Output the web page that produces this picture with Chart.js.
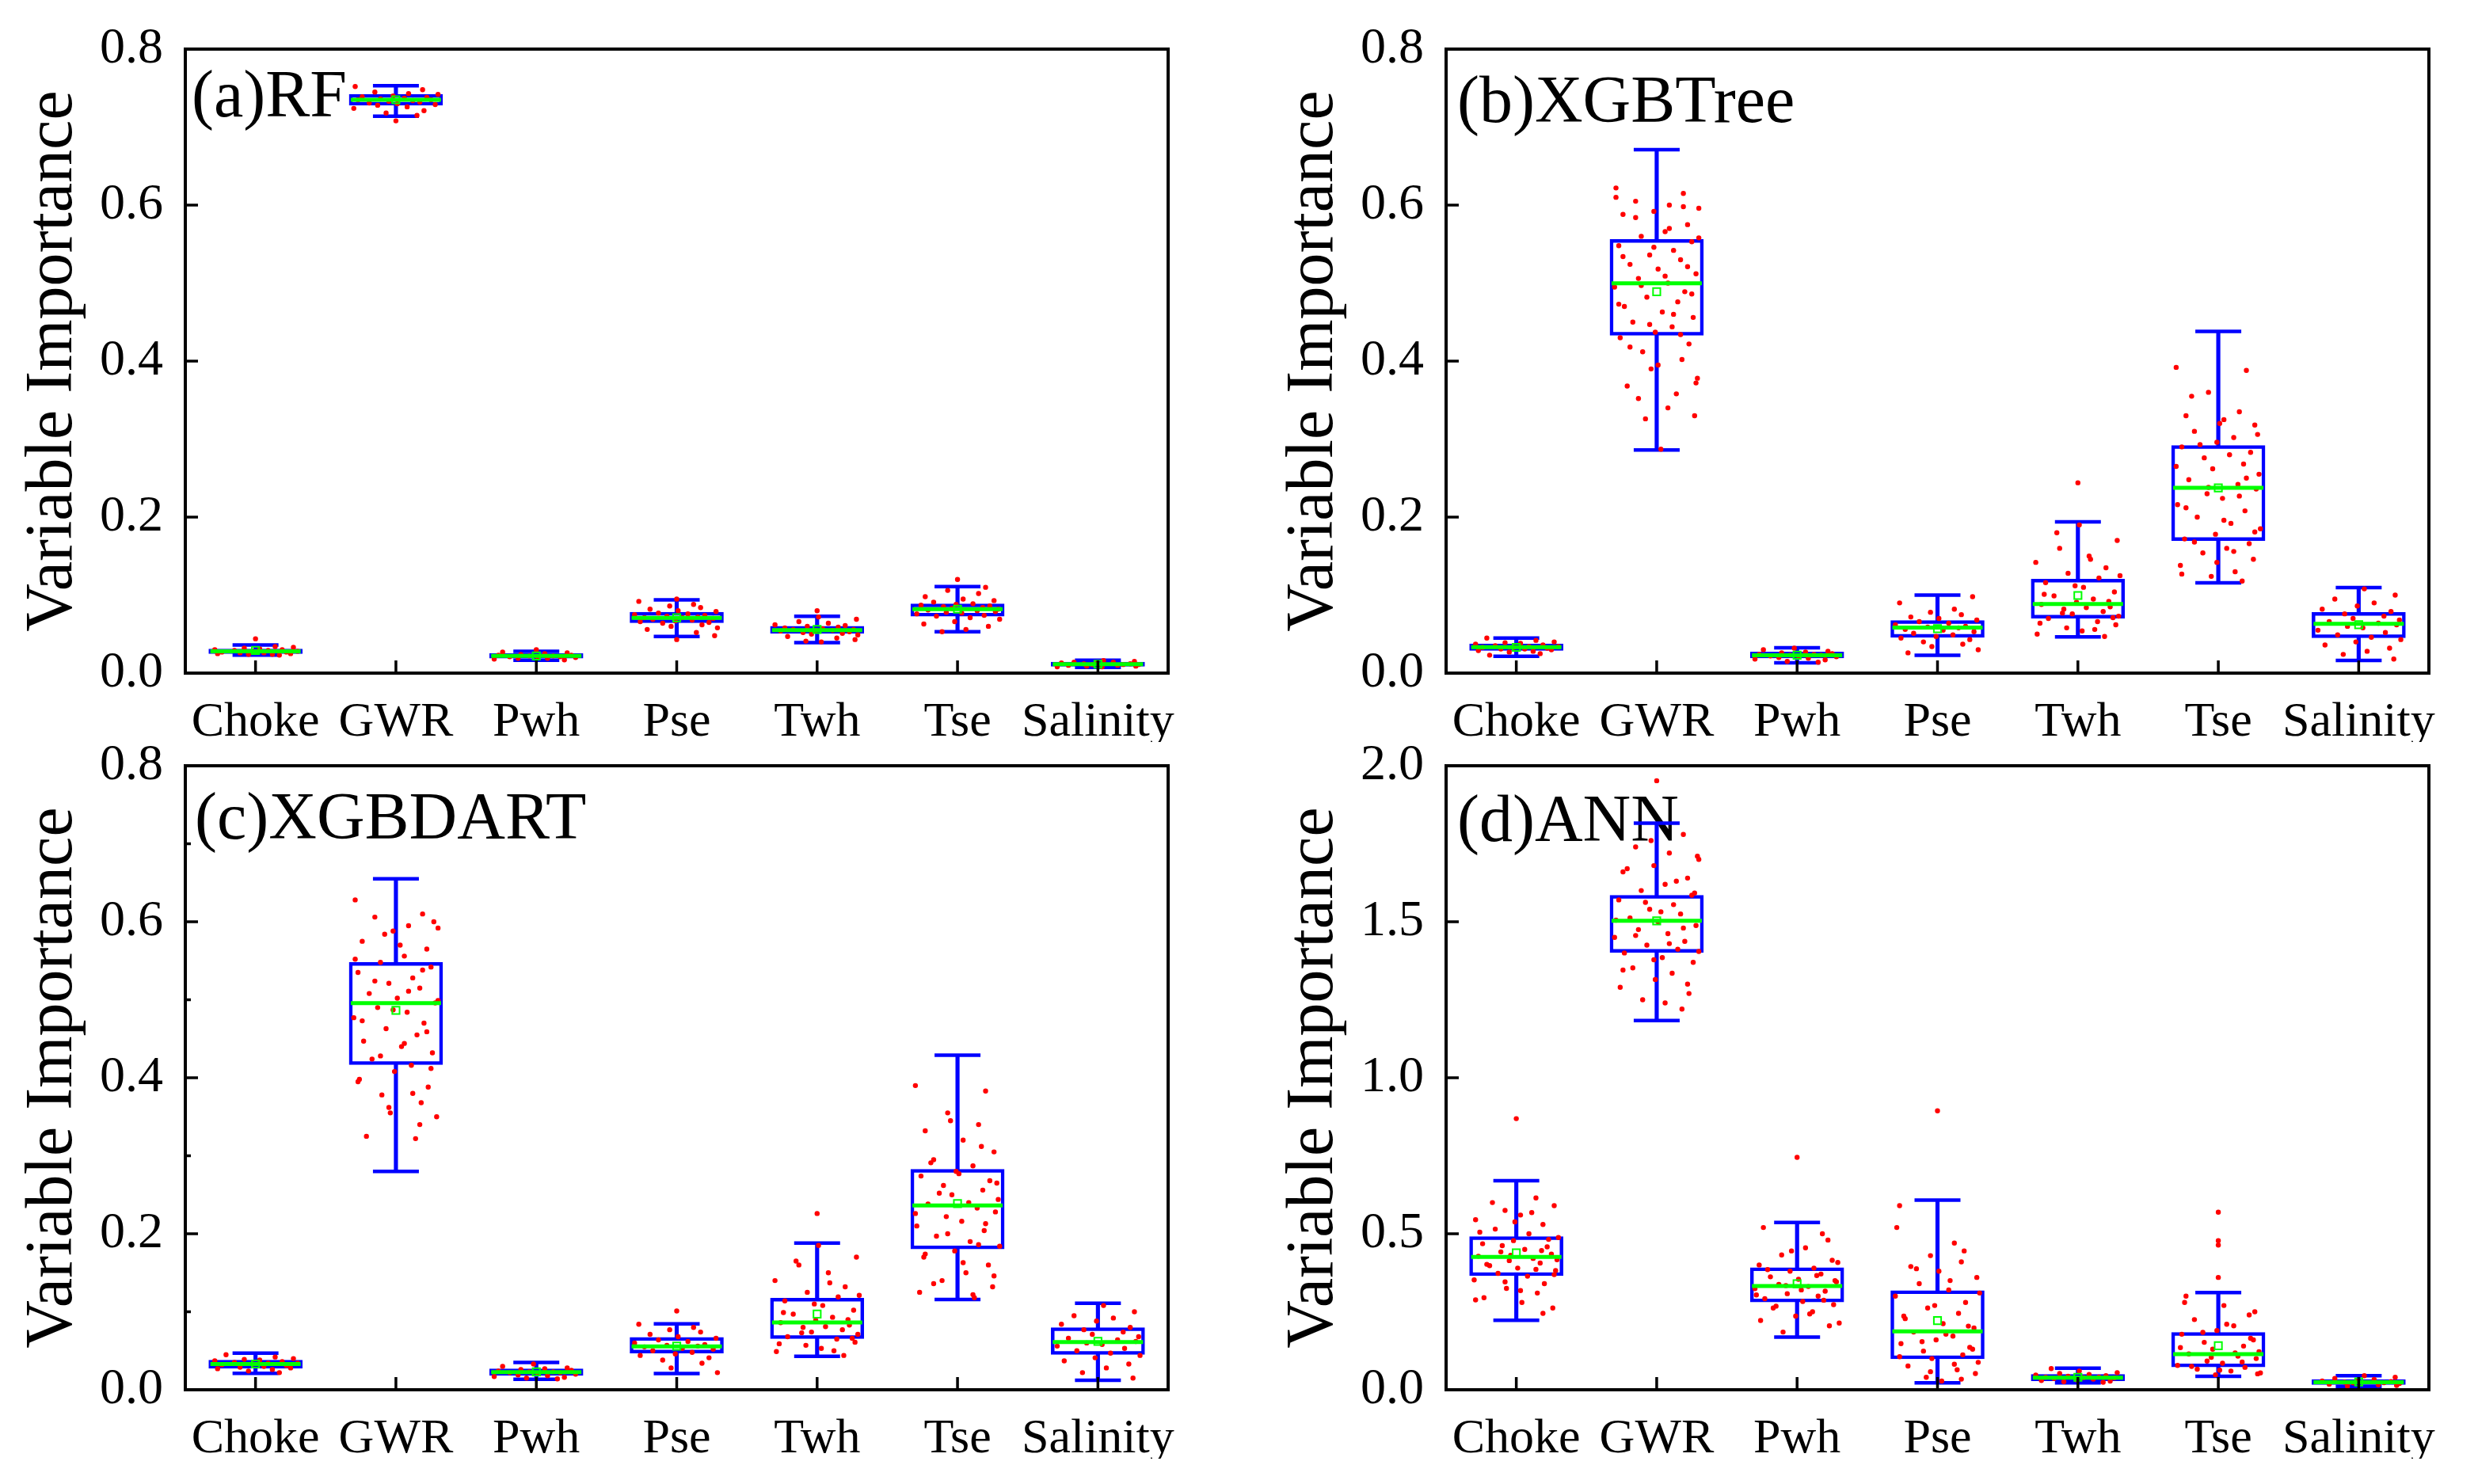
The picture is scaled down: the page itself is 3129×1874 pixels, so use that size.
<!DOCTYPE html>
<html>
<head>
<meta charset="utf-8">
<script src="https://cdn.jsdelivr.net/npm/chart.js@4.4.1/dist/chart.umd.min.js"></script>
<style>
  html, body { margin: 0; padding: 0; background: #fff; }
  body { width: 3129px; height: 1874px; position: relative; overflow: hidden; font-family: 'Liberation Serif', 'Times New Roman', serif; }
  canvas { position: absolute; }
</style>
</head>
<body>
<canvas id="pa" width="1537" height="937" style="left:0px;top:0px"></canvas>
<canvas id="pb" width="1537" height="937" style="left:1592px;top:0px"></canvas>
<canvas id="pc" width="1537" height="937" style="left:0px;top:905px"></canvas>
<canvas id="pd" width="1537" height="937" style="left:1592px;top:905px"></canvas>
<script>
const categories = ['Choke', 'GWR', 'Pwh', 'Pse', 'Twh', 'Tse', 'Salinity'];

// (a) RF
const rfMin  = [0.023, 0.714, 0.0165, 0.047, 0.039, 0.053, 0.0074];
const rfQ1   = [0.025, 0.728, 0.019, 0.0645, 0.051, 0.073, 0.0087];
const rfMed  = [0.028, 0.735, 0.022, 0.0708, 0.055, 0.082, 0.0114];
const rfQ3   = [0.031, 0.742, 0.025, 0.078, 0.060, 0.0887, 0.0141];
const rfMax  = [0.036, 0.753, 0.028, 0.094, 0.0728, 0.111, 0.0164];
const rfMean = [0.029, 0.735, 0.022, 0.071, 0.056, 0.082, 0.0114];
const rfPts = [
  [0.044, 0.034, 0.033, 0.032, 0.031, 0.030, 0.030, 0.029, 0.029, 0.028, 0.028, 0.027, 0.027, 0.026, 0.026, 0.025, 0.025, 0.024, 0.024, 0.023],
  [0.752, 0.748, 0.745, 0.743, 0.742, 0.740, 0.739, 0.738, 0.737, 0.736, 0.735, 0.735, 0.734, 0.733, 0.732, 0.731, 0.730, 0.729, 0.728, 0.726, 0.724, 0.721, 0.718, 0.715, 0.708],
  [0.030, 0.027, 0.026, 0.025, 0.024, 0.023, 0.023, 0.022, 0.022, 0.021, 0.021, 0.020, 0.020, 0.019, 0.019, 0.018, 0.017],
  [0.095, 0.092, 0.088, 0.086, 0.084, 0.082, 0.080, 0.079, 0.077, 0.076, 0.075, 0.074, 0.073, 0.072, 0.071, 0.071, 0.070, 0.069, 0.068, 0.067, 0.066, 0.065, 0.064, 0.062, 0.060, 0.058, 0.056, 0.052, 0.048, 0.043],
  [0.080, 0.072, 0.069, 0.066, 0.064, 0.062, 0.061, 0.060, 0.059, 0.058, 0.057, 0.056, 0.056, 0.055, 0.055, 0.054, 0.053, 0.052, 0.051, 0.050, 0.049, 0.047, 0.045, 0.043, 0.041, 0.040],
  [0.120, 0.110, 0.106, 0.102, 0.098, 0.095, 0.093, 0.091, 0.089, 0.088, 0.087, 0.086, 0.085, 0.084, 0.083, 0.082, 0.081, 0.080, 0.079, 0.078, 0.077, 0.076, 0.074, 0.073, 0.071, 0.069, 0.066, 0.063, 0.060, 0.056, 0.053],
  [0.016, 0.015, 0.014, 0.014, 0.013, 0.013, 0.012, 0.012, 0.011, 0.011, 0.011, 0.010, 0.010, 0.009, 0.009, 0.008, 0.008]
];

// (b) XGBTree
const xtMin  = [0.0217, 0.286, 0.0133, 0.0229, 0.0464, 0.1157, 0.0163];
const xtQ1   = [0.029, 0.433, 0.0193, 0.0458, 0.0705, 0.170, 0.0452];
const xtMed  = [0.0332, 0.4997, 0.0229, 0.0585, 0.0886, 0.2375, 0.0633];
const xtQ3   = [0.0374, 0.556, 0.027, 0.0675, 0.1206, 0.2917, 0.0778];
const xtMax  = [0.045, 0.671, 0.0325, 0.100, 0.194, 0.438, 0.1097];
const xtMean = [0.033, 0.489, 0.023, 0.057, 0.0995, 0.2375, 0.062];
const xtPts = [
  [0.045, 0.042, 0.040, 0.039, 0.038, 0.037, 0.036, 0.035, 0.034, 0.034, 0.033, 0.033, 0.032, 0.031, 0.031, 0.030, 0.029, 0.028, 0.027, 0.025, 0.023],
  [0.622, 0.615, 0.605, 0.600, 0.596, 0.592, 0.588, 0.575, 0.566, 0.560, 0.553, 0.548, 0.542, 0.536, 0.530, 0.524, 0.518, 0.512, 0.506, 0.500, 0.495, 0.489, 0.482, 0.476, 0.470, 0.463, 0.456, 0.450, 0.444, 0.437, 0.430, 0.422, 0.412, 0.402, 0.390, 0.378, 0.368, 0.358, 0.330, 0.326, 0.287,
   0.610, 0.598, 0.584, 0.570, 0.558, 0.546, 0.534, 0.521, 0.509, 0.497, 0.486, 0.473, 0.460, 0.447, 0.434, 0.418, 0.395, 0.372, 0.352, 0.340],
  [0.032, 0.030, 0.028, 0.027, 0.026, 0.025, 0.024, 0.024, 0.023, 0.023, 0.022, 0.022, 0.021, 0.020, 0.019, 0.018, 0.017, 0.015, 0.014],
  [0.098, 0.090, 0.082, 0.078, 0.075, 0.072, 0.070, 0.068, 0.066, 0.064, 0.062, 0.060, 0.059, 0.058, 0.056, 0.055, 0.053, 0.051, 0.049, 0.047, 0.045, 0.043, 0.040, 0.037, 0.034, 0.030, 0.026],
  [0.244, 0.190, 0.170, 0.160, 0.150, 0.142, 0.135, 0.128, 0.122, 0.116, 0.110, 0.104, 0.099, 0.095, 0.091, 0.088, 0.085, 0.082, 0.079, 0.076, 0.073, 0.070, 0.066, 0.062, 0.058, 0.054, 0.050, 0.047,
   0.180, 0.146, 0.125, 0.112, 0.101, 0.092, 0.084, 0.077, 0.071, 0.064, 0.056],
  [0.392, 0.388, 0.360, 0.335, 0.330, 0.325, 0.318, 0.310, 0.302, 0.296, 0.290, 0.283, 0.276, 0.268, 0.262, 0.255, 0.248, 0.242, 0.236, 0.230, 0.224, 0.216, 0.208, 0.200, 0.192, 0.185, 0.178, 0.172, 0.166, 0.160, 0.154, 0.146, 0.138, 0.130, 0.124, 0.118,
   0.355, 0.320, 0.306, 0.293, 0.280, 0.265, 0.250, 0.238, 0.227, 0.212, 0.196, 0.181, 0.168, 0.156, 0.142, 0.127],
  [0.108, 0.100, 0.095, 0.090, 0.086, 0.082, 0.079, 0.076, 0.073, 0.070, 0.068, 0.066, 0.064, 0.062, 0.060, 0.058, 0.055, 0.052, 0.049, 0.046, 0.043, 0.040, 0.036, 0.032, 0.028, 0.024, 0.018]
];

// (c) XGBDART
const xdMin  = [0.021, 0.280, 0.0135, 0.0208, 0.0428, 0.1157, 0.0122];
const xdQ1   = [0.0275, 0.4168, 0.0184, 0.047, 0.0655, 0.1805, 0.0453];
const xdMed  = [0.033, 0.4957, 0.0226, 0.0557, 0.0863, 0.2362, 0.0612];
const xdQ3   = [0.038, 0.548, 0.0269, 0.0673, 0.1175, 0.2827, 0.0796];
const xdMax  = [0.047, 0.655, 0.0349, 0.0845, 0.188, 0.429, 0.111];
const xdMean = [0.033, 0.4865, 0.023, 0.056, 0.097, 0.2387, 0.062];
const xdPts = [
  [0.045, 0.042, 0.040, 0.039, 0.038, 0.037, 0.036, 0.035, 0.034, 0.034, 0.033, 0.032, 0.031, 0.030, 0.029, 0.028, 0.027, 0.026, 0.024, 0.022],
  [0.628, 0.610, 0.606, 0.595, 0.592, 0.588, 0.575, 0.565, 0.556, 0.548, 0.542, 0.535, 0.528, 0.521, 0.515, 0.508, 0.502, 0.496, 0.490, 0.484, 0.477, 0.470, 0.463, 0.455, 0.447, 0.440, 0.432, 0.424, 0.416, 0.408, 0.398, 0.388, 0.378, 0.368, 0.355, 0.350, 0.325, 0.322,
   0.600, 0.584, 0.570, 0.552, 0.538, 0.524, 0.511, 0.499, 0.487, 0.473, 0.459, 0.444, 0.428, 0.412, 0.395, 0.380, 0.362, 0.340],
  [0.033, 0.030, 0.028, 0.027, 0.026, 0.025, 0.024, 0.023, 0.023, 0.022, 0.022, 0.021, 0.020, 0.019, 0.018, 0.017, 0.016, 0.015, 0.014],
  [0.101, 0.084, 0.080, 0.077, 0.074, 0.071, 0.068, 0.066, 0.064, 0.062, 0.060, 0.058, 0.057, 0.056, 0.055, 0.053, 0.052, 0.050, 0.048, 0.046, 0.044, 0.041, 0.038, 0.034, 0.028, 0.022],
  [0.226, 0.185, 0.170, 0.160, 0.150, 0.140, 0.132, 0.125, 0.119, 0.114, 0.108, 0.102, 0.097, 0.093, 0.089, 0.086, 0.083, 0.080, 0.077, 0.074, 0.071, 0.068, 0.065, 0.061, 0.057, 0.053, 0.049, 0.044,
   0.165, 0.137, 0.121, 0.110, 0.099, 0.090, 0.081, 0.073, 0.066, 0.059, 0.050],
  [0.390, 0.383, 0.355, 0.340, 0.332, 0.320, 0.305, 0.295, 0.287, 0.280, 0.274, 0.268, 0.262, 0.256, 0.250, 0.244, 0.238, 0.233, 0.228, 0.222, 0.216, 0.210, 0.204, 0.197, 0.190, 0.184, 0.178, 0.170, 0.160, 0.150, 0.140, 0.132, 0.125, 0.118,
   0.345, 0.312, 0.291, 0.277, 0.265, 0.252, 0.240, 0.226, 0.213, 0.200, 0.186, 0.174, 0.163, 0.146, 0.136, 0.122],
  [0.108, 0.100, 0.095, 0.092, 0.088, 0.084, 0.080, 0.077, 0.074, 0.071, 0.068, 0.066, 0.064, 0.062, 0.060, 0.058, 0.056, 0.053, 0.050, 0.047, 0.044, 0.041, 0.037, 0.033, 0.028, 0.022, 0.015]
];

// (d) ANN
const anMin  = [0.223, 1.1835, 0.169, 0.0225, 0.0225, 0.0434, 0.0105];
const anQ1   = [0.3655, 1.402, 0.2816, 0.099, 0.0285, 0.0734, 0.0165];
const anMed  = [0.4255, 1.503, 0.3326, 0.187, 0.039, 0.114, 0.024];
const anQ3   = [0.491, 1.585, 0.391, 0.3176, 0.049, 0.184, 0.033];
const anMax  = [0.670, 1.816, 0.536, 0.608, 0.069, 0.3116, 0.045];
const anMean = [0.439, 1.503, 0.340, 0.222, 0.040, 0.141, 0.025];
const anPts = [
  [0.869, 0.615, 0.590, 0.575, 0.560, 0.545, 0.530, 0.515, 0.500, 0.488, 0.478, 0.468, 0.458, 0.450, 0.442, 0.435, 0.428, 0.421, 0.414, 0.406, 0.398, 0.390, 0.382, 0.373, 0.364, 0.352, 0.340, 0.325, 0.310, 0.295, 0.280, 0.262,
   0.600, 0.568, 0.538, 0.505, 0.482, 0.462, 0.446, 0.431, 0.417, 0.402, 0.386, 0.369, 0.346, 0.318, 0.288, 0.245],
  [1.952, 1.780, 1.740, 1.720, 1.700, 1.680, 1.660, 1.640, 1.620, 1.600, 1.585, 1.570, 1.555, 1.540, 1.525, 1.512, 1.500, 1.488, 1.475, 1.462, 1.450, 1.437, 1.425, 1.412, 1.400, 1.385, 1.370, 1.352, 1.335, 1.315, 1.290, 1.270, 1.250, 1.220,
   1.760, 1.710, 1.670, 1.630, 1.592, 1.562, 1.532, 1.505, 1.480, 1.456, 1.430, 1.405, 1.378, 1.345, 1.300, 1.240],
  [0.745, 0.520, 0.480, 0.455, 0.432, 0.415, 0.400, 0.390, 0.380, 0.371, 0.362, 0.354, 0.346, 0.338, 0.331, 0.324, 0.316, 0.308, 0.300, 0.292, 0.283, 0.273, 0.262, 0.250, 0.236, 0.222, 0.205, 0.185,
   0.500, 0.445, 0.408, 0.385, 0.366, 0.350, 0.334, 0.320, 0.304, 0.287, 0.268, 0.243, 0.214],
  [0.894, 0.590, 0.470, 0.430, 0.410, 0.395, 0.380, 0.360, 0.340, 0.320, 0.300, 0.280, 0.262, 0.245, 0.228, 0.212, 0.198, 0.185, 0.172, 0.160, 0.148, 0.136, 0.124, 0.112, 0.100, 0.088, 0.076, 0.064, 0.052, 0.040, 0.028,
   0.520, 0.445, 0.388, 0.350, 0.310, 0.270, 0.236, 0.204, 0.178, 0.154, 0.130, 0.106, 0.082, 0.058, 0.034],
  [0.068, 0.060, 0.055, 0.052, 0.049, 0.047, 0.045, 0.043, 0.041, 0.040, 0.039, 0.038, 0.036, 0.034, 0.032, 0.030, 0.028, 0.026, 0.024],
  [0.569, 0.478, 0.464, 0.360, 0.300, 0.270, 0.250, 0.225, 0.205, 0.190, 0.178, 0.165, 0.152, 0.140, 0.130, 0.122, 0.115, 0.108, 0.100, 0.092, 0.085, 0.078, 0.072, 0.066, 0.060, 0.054, 0.048,
   0.280, 0.240, 0.210, 0.184, 0.160, 0.135, 0.118, 0.104, 0.089, 0.075, 0.063, 0.051],
  [0.045, 0.040, 0.036, 0.033, 0.030, 0.028, 0.026, 0.024, 0.023, 0.022, 0.020, 0.018, 0.016, 0.014, 0.012]
];

// horizontal spread of the dots, in category units
const jitter = [-0.21, 0.14, 0.27, -0.08, 0.03, -0.29, 0.19, -0.15, 0.09, 0.30, -0.02, -0.24, 0.22, 0.06, -0.11, 0.25, -0.27, 0.12, -0.05, 0.17, -0.19, 0.01, 0.28, -0.13, 0.08, -0.30, 0.20, -0.07, 0.15, -0.23, 0.04, 0.26, -0.17, 0.11, -0.01, -0.26, 0.23, -0.10, 0.18, -0.04, 0.29];

const BLUE = '#0000ff';
const GREEN = '#00ff00';
const RED = '#ff0000';
const FAMILY = "'Liberation Serif', 'Times New Roman', 'DejaVu Serif', serif";

Chart.defaults.font.family = FAMILY;
Chart.defaults.color = '#000';

const dotPoints = (pts, mins, maxs) => {
    const out = [];
    pts.forEach((vals, i) => {
        vals.forEach((v, j) => {
            // dots past the whiskers sit on the centre line
            const dx = (v > maxs[i] || v < mins[i]) ? 0 : jitter[(j + 5 * i) % jitter.length];
            out.push({ x: i + dx, y: v });
        });
    });
    return out;
};

// frame round the plot area, inward ticks
const framePlugin = {
    id: 'frame',
    afterDraw(chart, args, opts) {
        const { ctx, chartArea: { left, right, top, bottom }, scales: { x, y } } = chart;
        ctx.save();
        ctx.strokeStyle = '#000';
        ctx.lineWidth = 3.5;
        ctx.beginPath();
        y.ticks.forEach(t => {
            const py = y.getPixelForValue(t.value);
            ctx.moveTo(left, py);
            ctx.lineTo(left + 16, py);
        });
        if (opts.minor) {
            for (let k = 0; k < y.ticks.length - 1; k++) {
                const py = y.getPixelForValue((y.ticks[k].value + y.ticks[k + 1].value) / 2);
                ctx.moveTo(left, py);
                ctx.lineTo(left + 7, py);
            }
        }
        x.ticks.forEach((t, i) => {
            const px = x.getPixelForTick(i);
            ctx.moveTo(px, bottom);
            ctx.lineTo(px, bottom - 16);
        });
        ctx.stroke();
        ctx.lineWidth = 4;
        ctx.strokeRect(left, top, right - left, bottom - top);
        ctx.restore();
    }
};

// panel name, under the data
const labelPlugin = {
    id: 'panelLabel',
    beforeDatasetsDraw(chart, args, opts) {
        const { ctx, chartArea: { left, top } } = chart;
        ctx.save();
        ctx.fillStyle = '#000';
        ctx.font = '84px ' + FAMILY;
        ctx.textBaseline = 'alphabetic';
        ctx.fillText(opts.text, left + opts.dx, top + opts.dy);
        ctx.restore();
    }
};

const makePanel = (id, p) => {
    const ctx = document.getElementById(id).getContext('2d');
    return new Chart(ctx, {
        type: 'bar',
        data: {
            labels: categories,
            datasets: [
                {   // whiskers
                    type: 'bar',
                    data: p.min.map((v, i) => [v, p.max[i]]),
                    backgroundColor: BLUE,
                    barThickness: 4.5,
                    grouped: false,
                    order: 6
                },
                {   // boxes
                    type: 'bar',
                    data: p.q1.map((v, i) => [v, p.q3[i]]),
                    backgroundColor: '#fff',
                    borderColor: BLUE,
                    borderWidth: 4.5,
                    borderSkipped: false,
                    barThickness: 118,
                    grouped: false,
                    order: 5
                },
                {   // whisker caps
                    type: 'scatter',
                    xAxisID: 'xj',
                    data: p.min.map((v, i) => ({ x: i, y: v })).concat(p.max.map((v, i) => ({ x: i, y: v }))),
                    pointStyle: 'line',
                    pointRadius: 29,
                    pointBorderWidth: 4.5,
                    pointBorderColor: BLUE,
                    order: 4
                },
                {   // data dots
                    type: 'scatter',
                    xAxisID: 'xj',
                    data: dotPoints(p.pts, p.min, p.max),
                    pointStyle: 'circle',
                    pointRadius: 3.2,
                    pointBorderWidth: 0,
                    pointBackgroundColor: RED,
                    order: 3
                },
                {   // medians
                    type: 'scatter',
                    xAxisID: 'xj',
                    data: p.med.map((v, i) => ({ x: i, y: v })),
                    pointStyle: 'line',
                    pointRadius: 57,
                    pointBorderWidth: 5,
                    pointBorderColor: GREEN,
                    order: 2
                },
                {   // means
                    type: 'scatter',
                    xAxisID: 'xj',
                    data: p.mean.map((v, i) => ({ x: i, y: v })),
                    pointStyle: 'rect',
                    pointRadius: 6.5,
                    pointBorderWidth: 2,
                    pointBorderColor: GREEN,
                    pointBackgroundColor: 'rgba(0,0,0,0)',
                    order: 1
                }
            ]
        },
        options: {
            responsive: false,
            animation: false,
            events: [],
            font: { family: FAMILY },
            layout: { padding: { top: 53, right: 45, left: 0, bottom: 0 } },
            scales: {
                x: {
                    type: 'category',
                    offset: true,
                    grid: { display: false },
                    border: { display: false },
                    ticks: { color: '#000', font: { family: FAMILY, size: 62 }, padding: 18, maxRotation: 0, autoSkip: false },
                    afterFit: s => { s.height = 87; }
                },
                xj: {
                    type: 'linear',
                    axis: 'x',
                    position: 'bottom',
                    display: false,
                    offset: false,
                    grid: { offset: false },
                    min: -0.5,
                    max: 6.5
                },
                y: {
                    min: 0,
                    max: p.yMax,
                    grid: { display: false },
                    border: { display: false },
                    ticks: {
                        stepSize: p.step,
                        padding: 20,
                        color: '#000',
                        font: { family: FAMILY, size: 64 },
                        autoSkip: false,
                        callback: v => Number(v).toFixed(1)
                    },
                    title: {
                        display: true,
                        text: 'Variable Importance',
                        color: '#000',
                        font: { family: FAMILY, size: 84 },
                        padding: { top: 18, bottom: 0 }
                    },
                    afterFit: s => { s.width = 234; }
                }
            },
            plugins: {
                legend: { display: false },
                tooltip: { enabled: false },
                frame: { minor: p.minor },
                panelLabel: { text: p.title, dx: p.dx, dy: p.dy }
            }
        },
        plugins: [framePlugin, labelPlugin]
    });
};

const drawAll = () => {
    makePanel('pa', { title: '(a)RF', dx: 8, dy: 85, yMax: 0.8, step: 0.2, minor: false,
        min: rfMin, q1: rfQ1, med: rfMed, q3: rfQ3, max: rfMax, mean: rfMean, pts: rfPts });
    makePanel('pb', { title: '(b)XGBTree', dx: 14, dy: 92, yMax: 0.8, step: 0.2, minor: false,
        min: xtMin, q1: xtQ1, med: xtMed, q3: xtQ3, max: xtMax, mean: xtMean, pts: xtPts });
    makePanel('pc', { title: '(c)XGBDART', dx: 12, dy: 92, yMax: 0.8, step: 0.2, minor: true,
        min: xdMin, q1: xdQ1, med: xdMed, q3: xdQ3, max: xdMax, mean: xdMean, pts: xdPts });
    makePanel('pd', { title: '(d)ANN', dx: 14, dy: 95, yMax: 2.0, step: 0.5, minor: false,
        min: anMin, q1: anQ1, med: anMed, q3: anQ3, max: anMax, mean: anMean, pts: anPts });
};

// make sure the serif face is ready before the canvases are painted
Promise.all([
    document.fonts.load('64px "Liberation Serif"'),
    document.fonts.load('84px "Liberation Serif"')
]).catch(() => null).then(drawAll);
</script>
</body>
</html>
